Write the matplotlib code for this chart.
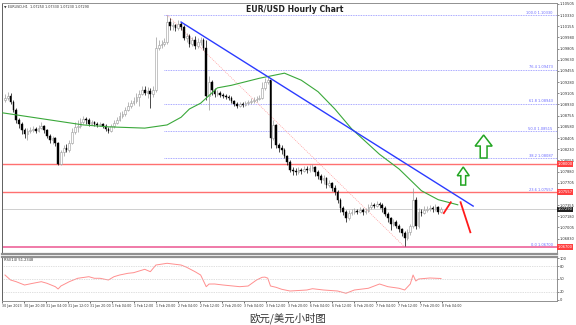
import numpy as np
import matplotlib
matplotlib.use("Agg")
import matplotlib.pyplot as plt
from matplotlib.patches import Polygon

plt.rcParams['font.family'] = ['DejaVu Sans', 'Noto Sans CJK SC']

# hourly candles (open of each bar = previous close)
first_open = 1.0900
closes = [
    1.0903, 1.0906, 1.0897, 1.0884, 1.0869, 1.0862, 1.0853, 1.0847, 1.0851, 1.0853,
    1.0855, 1.0851, 1.0856, 1.0859, 1.0853, 1.0844, 1.0837, 1.0841, 1.0833, 1.0800,
    1.0819, 1.0825, 1.0822, 1.0833, 1.0850, 1.0858, 1.0859, 1.0866, 1.0870, 1.0869,
    1.0862, 1.0866, 1.0862, 1.0861, 1.0862, 1.0859, 1.0855, 1.0851, 1.0859, 1.0864,
    1.0869, 1.0875, 1.0878, 1.0884, 1.0891, 1.0895, 1.0898, 1.0905, 1.0909, 1.0916,
    1.0911, 1.0914, 1.0909, 1.0916, 1.0981, 1.0986, 1.0988, 1.0991, 1.1022, 1.1016,
    1.1017, 1.1013, 1.1019, 1.1014, 1.0997, 1.1000, 1.0988, 1.0994, 1.0985, 1.0991,
    1.0994, 1.0981, 1.0906, 1.0928, 1.0916, 1.0909, 1.0911, 1.0908, 1.0906, 1.0905,
    1.0903, 1.0898, 1.0894, 1.0891, 1.0894, 1.0892, 1.0895, 1.0897, 1.0898, 1.0900,
    1.0902, 1.0903, 1.0919, 1.0928, 1.0931, 1.0841, 1.0861, 1.0830, 1.0825, 1.0822,
    1.0812, 1.0803, 1.0790, 1.0789, 1.0787, 1.0790, 1.0789, 1.0792, 1.0790, 1.0794,
    1.0795, 1.0787, 1.0781, 1.0775, 1.0778, 1.0767, 1.0770, 1.0762, 1.0756, 1.0744,
    1.0731, 1.0725, 1.0715, 1.0723, 1.0725, 1.0726, 1.0725, 1.0728, 1.0725, 1.0726,
    1.0733, 1.0736, 1.0734, 1.0737, 1.0736, 1.0731, 1.0722, 1.0715, 1.0706, 1.0709,
    1.0703, 1.0698, 1.0692, 1.0684, 1.0693, 1.0703, 1.0744, 1.0703, 1.0725, 1.0723,
    1.0728, 1.0729, 1.0731, 1.0729, 1.0733, 1.0725, 1.0729,
]
highs = [
    1.0909, 1.0913, 1.0911, 1.0900, 1.0888, 1.0872, 1.0866, 1.0856, 1.0856, 1.0858,
    1.0859, 1.0858, 1.0861, 1.0866, 1.0861, 1.0855, 1.0847, 1.0844, 1.0842, 1.0834,
    1.0822, 1.0830, 1.0831, 1.0837, 1.0856, 1.0866, 1.0869, 1.0872, 1.0875, 1.0873,
    1.0872, 1.0869, 1.0867, 1.0866, 1.0866, 1.0864, 1.0862, 1.0858, 1.0862, 1.0869,
    1.0873, 1.0881, 1.0883, 1.0889, 1.0897, 1.0900, 1.0905, 1.0911, 1.0916, 1.0922,
    1.0922, 1.0920, 1.0919, 1.0922, 1.0999, 1.0994, 1.0994, 1.0997, 1.1033, 1.1028,
    1.1022, 1.1019, 1.1025, 1.1022, 1.1017, 1.1005, 1.1003, 1.0999, 1.1000, 1.0997,
    1.0999, 1.0997, 1.0994, 1.0938, 1.0931, 1.0919, 1.0916, 1.0914, 1.0911, 1.0909,
    1.0908, 1.0906, 1.0900, 1.0897, 1.0897, 1.0897, 1.0898, 1.0900, 1.0903, 1.0905,
    1.0906, 1.0908, 1.0928, 1.0934, 1.0936, 1.0931, 1.0869, 1.0862, 1.0833, 1.0830,
    1.0825, 1.0814, 1.0806, 1.0795, 1.0794, 1.0795, 1.0794, 1.0797, 1.0797, 1.0798,
    1.0800, 1.0797, 1.0790, 1.0784, 1.0783, 1.0780, 1.0775, 1.0772, 1.0767, 1.0759,
    1.0747, 1.0734, 1.0728, 1.0728, 1.0729, 1.0731, 1.0729, 1.0733, 1.0731, 1.0731,
    1.0737, 1.0740, 1.0739, 1.0742, 1.0740, 1.0739, 1.0734, 1.0725, 1.0717, 1.0714,
    1.0712, 1.0706, 1.0700, 1.0695, 1.0698, 1.0706, 1.0762, 1.0748, 1.0731, 1.0729,
    1.0734, 1.0734, 1.0736, 1.0734, 1.0737, 1.0734, 1.0733,
]
lows = [
    1.0897, 1.0900, 1.0894, 1.0881, 1.0864, 1.0856, 1.0847, 1.0841, 1.0837, 1.0848,
    1.0850, 1.0848, 1.0850, 1.0855, 1.0848, 1.0841, 1.0833, 1.0831, 1.0828, 1.0798,
    1.0798, 1.0812, 1.0819, 1.0819, 1.0831, 1.0847, 1.0850, 1.0856, 1.0862, 1.0862,
    1.0859, 1.0861, 1.0859, 1.0858, 1.0859, 1.0856, 1.0851, 1.0848, 1.0850, 1.0856,
    1.0862, 1.0867, 1.0872, 1.0875, 1.0883, 1.0888, 1.0892, 1.0895, 1.0891, 1.0908,
    1.0908, 1.0903, 1.0888, 1.0905, 1.0913, 1.0978, 1.0981, 1.0985, 1.0988, 1.1010,
    1.1010, 1.1008, 1.1010, 1.1010, 1.0994, 1.0991, 1.0983, 1.0985, 1.0980, 1.0981,
    1.0986, 1.0978, 1.0900, 1.0884, 1.0908, 1.0905, 1.0906, 1.0905, 1.0903, 1.0902,
    1.0900, 1.0895, 1.0891, 1.0888, 1.0889, 1.0889, 1.0891, 1.0892, 1.0894, 1.0895,
    1.0897, 1.0900, 1.0902, 1.0916, 1.0925, 1.0825, 1.0837, 1.0825, 1.0819, 1.0815,
    1.0809, 1.0798, 1.0787, 1.0783, 1.0783, 1.0784, 1.0784, 1.0787, 1.0786, 1.0787,
    1.0789, 1.0781, 1.0776, 1.0770, 1.0769, 1.0762, 1.0764, 1.0758, 1.0751, 1.0739,
    1.0725, 1.0720, 1.0709, 1.0712, 1.0720, 1.0722, 1.0722, 1.0723, 1.0720, 1.0722,
    1.0725, 1.0729, 1.0731, 1.0733, 1.0731, 1.0725, 1.0718, 1.0709, 1.0697, 1.0703,
    1.0700, 1.0693, 1.0687, 1.0672, 1.0681, 1.0689, 1.0700, 1.0698, 1.0700, 1.0718,
    1.0722, 1.0725, 1.0726, 1.0725, 1.0726, 1.0722, 1.0723,
]

# green moving average, read at a few bars
ma_bars = [-1, 28, 37, 50, 58, 63, 66, 70, 76, 81, 91, 100, 106, 112, 118, 124, 134, 141, 149, 155, 162]
ma_vals = [1.0880, 1.0861, 1.0858, 1.0856, 1.0861, 1.0873, 1.0886, 1.0895, 1.0919, 1.0923, 1.0934,
           1.0942, 1.0931, 1.0913, 1.0886, 1.0855, 1.0815, 1.0792, 1.0758, 1.0744, 1.0736]

# RSI(14), read at a few bars
rsi_bars = [0, 2, 4, 7, 10, 13, 15, 18, 19, 20, 23, 26, 30, 32, 34, 37, 39, 41, 44, 46,
            50, 52, 54, 58, 63, 65, 68, 70, 72, 73, 75, 78, 84, 87, 90, 92, 93, 94, 95, 97,
            99, 102, 108, 110, 114, 119, 122, 125, 130, 134, 137, 141, 143, 145, 146, 147, 148, 152, 156]
rsi_vals = [59.5, 47.6, 43.6, 35.7, 39.8, 43.6, 39.8, 31.7, 26.2, 33.3, 43.6, 51.7, 55.5, 51.7, 51.7,
            47.6, 55.5, 59.5, 63.6, 65.0, 73.1, 67.4, 83.3, 87.4, 83.3, 77.9, 67.4, 59.5, 31.7, 38.0,
            38.1, 35.7, 31.7, 33.3, 47.6, 54.0, 54.5, 52.0, 33.3, 30.2, 25.5, 21.4, 23.8, 26.9, 23.8,
            21.4, 16.0, 23.8, 27.9, 38.1, 31.7, 27.9, 23.8, 38.1, 59.5, 45.2, 50.0, 52.4, 51.2]
rsi_levels = [20, 50, 80]

# fibonacci retracement between swing high and swing low
fib_high, fib_low = 1.10330, 1.06700
fib_high_bar, fib_low_bar = 58, 143
fib_ratios = [1.0, 0.764, 0.618, 0.5, 0.382, 0.236, 0.0]

# support / resistance lines and current price
red_levels = [1.08000, 1.07557]
last_price = 1.07290

# blue trend line and red projection
trend_bars = [63, 167.5]
trend_vals = [1.1022, 1.0734]
proj_up_bars, proj_up_vals = [157, 159.5], [1.0723, 1.0740]
proj_dn_bars, proj_dn_vals = [163, 166.5], [1.0740, 1.0693]

time_labels = [
    "30 Jan 2023", "30 Jan 20:00", "31 Jan 04:00", "31 Jan 12:00", "31 Jan 20:00",
    "1 Feb 04:00", "1 Feb 12:00", "1 Feb 20:00", "2 Feb 04:00", "2 Feb 12:00",
    "2 Feb 20:00", "3 Feb 04:00", "3 Feb 12:00", "3 Feb 20:00", "6 Feb 04:00",
    "6 Feb 12:00", "6 Feb 20:00", "7 Feb 04:00", "7 Feb 12:00", "7 Feb 20:00", "8 Feb 04:00",
]

W, H = 576, 325
fig = plt.figure(figsize=(W / 100, H / 100), dpi=100)
ax = fig.add_axes([2 / W, 1 - 254 / H, 555 / W, 251 / H])
rax = fig.add_axes([2 / W, 1 - 301 / H, 555 / W, 44 / H], sharex=ax)

closes = np.array(closes)
opens = np.concatenate([[first_open], closes[:-1]])
highs = np.maximum.reduce([np.array(highs), opens, closes])
lows = np.minimum.reduce([np.array(lows), opens, closes])
x = np.arange(len(closes))
bull = closes >= opens

# candles
ax.vlines(x[bull], lows[bull], highs[bull], color='#9a9a9a', lw=0.5, zorder=3)
ax.vlines(x[~bull], lows[~bull], highs[~bull], color='black', lw=0.5, zorder=3)
body_h = np.maximum(np.abs(closes - opens), 0.00004)
ax.bar(x[bull], body_h[bull], bottom=opens[bull], width=0.6, color='white',
       edgecolor='#9a9a9a', linewidth=0.4, zorder=4)
ax.bar(x[~bull], body_h[~bull], bottom=closes[~bull], width=0.6, color='black',
       edgecolor='black', linewidth=0.3, zorder=4)

xmin, xmax = -0.71, 197.5
ax.set_xlim(xmin, xmax)
ax.set_ylim(1.06590, 1.10518)

# fibonacci levels
for r in fib_ratios:
    lvl = fib_low + r * (fib_high - fib_low)
    ax.plot([56.8, xmax], [lvl, lvl], color='#8c8cff', lw=0.6, ls=(0, (1, 1)), zorder=2)
    ax.text(xmax - 1.5, lvl + 0.00005, f"{r * 100:.1f} {lvl:.5f}", fontsize=2.6,
            color='#6a6aff', ha='right', va='bottom', zorder=6)
ax.plot([fib_high_bar, fib_low_bar], [fib_high, fib_low], color='#ff9a9a', lw=0.5,
        ls=(0, (1.5, 1.5)), zorder=2)

# horizontal lines
for lvl in red_levels:
    ax.axhline(lvl, color='#ff7070', lw=1.0, zorder=2)
ax.axhline(fib_low, color='#f07aa8', lw=1.4, zorder=2)
ax.axhline(last_price, color='#c8c8c8', lw=0.6, zorder=1)

# moving average and trend line
ax.plot(ma_bars, ma_vals, color='#3aa83a', lw=0.8, zorder=5)
ax.plot(trend_bars, trend_vals, color='#2b3bff', lw=1.0, zorder=5)
ax.plot(proj_up_bars, proj_up_vals, color='#ff1a1a', lw=1.3, zorder=5)
ax.plot(proj_dn_bars, proj_dn_vals, color='#ff1a1a', lw=1.3, zorder=5)


def up_arrow(a, x0, x1, y0, y1):
    cx = (x0 + x1) / 2
    hb = y1 - 0.48 * (y1 - y0)
    sw = 0.2 * (x1 - x0)
    pts = [(cx, y1), (x1, hb), (cx + sw, hb), (cx + sw, y0),
           (cx - sw, y0), (cx - sw, hb), (x0, hb)]
    a.add_patch(Polygon(pts, closed=True, facecolor='white', edgecolor='#22a522',
                        lw=1.1, zorder=6))


up_arrow(ax, 168.2, 174.3, 1.08092, 1.08452)
up_arrow(ax, 161.8, 166.1, 1.07669, 1.07951)

# right price axis; ticks hidden behind the coloured price boxes are dropped
box_levels = [red_levels[0], red_levels[1], fib_low, last_price]
yt = [t for t in np.arange(1.06655, 1.1055, 0.00175)
      if min(abs(t - b) for b in box_levels) > 0.0005]
ax.yaxis.tick_right()
ax.set_yticks(yt)
ax.yaxis.set_major_formatter(plt.FuncFormatter(lambda v, p: f"{v:.5f}"))
ax.tick_params(axis='y', labelsize=2.6, length=1.2, width=0.4, pad=0.6, colors='#333333')
ax.tick_params(axis='x', bottom=False, labelbottom=False)
for lvl, txt, fc in [(red_levels[0], "1.08000", '#ff4040'), (red_levels[1], "1.07557", '#ff4040'),
                     (fib_low, "1.06700", '#ff4040'), (last_price, "1.07290", '#202020')]:
    ax.text(1.001, lvl, txt, transform=ax.get_yaxis_transform(), fontsize=2.6, color='white',
            va='center', ha='left', zorder=7,
            bbox=dict(boxstyle='square,pad=0.2', fc=fc, ec='none'))

for s in ax.spines.values():
    s.set_color('#909090')
    s.set_linewidth(0.7)
ax.spines['bottom'].set_linewidth(1.6)
ax.spines['left'].set_color('#606060')

# RSI panel
rax.plot(rsi_bars, rsi_vals, color='#ff8f8f', lw=0.7)
for lv in rsi_levels:
    rax.axhline(lv, color='#c0c0c0', lw=0.5, ls=(0, (1, 1.5)))
rax.set_ylim(-2.4, 102.4)
rax.yaxis.tick_right()
rax.set_yticks([0, 20, 50, 80, 100])
rax.tick_params(axis='y', labelsize=2.6, length=1.2, width=0.4, pad=0.6, colors='#333333')
rax.text(0.003, 0.97, "RSI(14) 51.2348", transform=rax.transAxes, fontsize=2.6,
         va='top', ha='left', color='#333333')
for s in rax.spines.values():
    s.set_color('#909090')
    s.set_linewidth(0.7)
rax.spines['top'].set_linewidth(1.6)
rax.spines['left'].set_color('#606060')

tick_pos = [(1 + 22.05 * k - 4) / 2.8 for k in range(len(time_labels))]
rax.set_xticks(tick_pos)
rax.set_xticklabels(time_labels, fontsize=2.3, ha='left', color='#333333')
rax.tick_params(axis='x', length=1.2, width=0.4, pad=0.8)

# texts
fig.text(295 / W, 1 - 10 / H, "EUR/USD Hourly Chart", fontsize=5.6, fontweight='bold',
         ha='center', va='center', color='#222222', family=['Liberation Sans Narrow', 'DejaVu Sans'])
fig.text(4 / W, 1 - 7 / H, "\u25bc EURUSD,H1  1.07250 1.07330 1.07230 1.07290", fontsize=2.4,
         ha='left', va='center', color='#333333')
fig.text(0.5, 1 - 318 / H, "欧元/美元小时图", fontsize=7.5, ha='center', va='center',
         color='#333333', family=['Noto Sans CJK SC', 'DejaVu Sans'])

fig.savefig('out.png', dpi=100, facecolor='white')
